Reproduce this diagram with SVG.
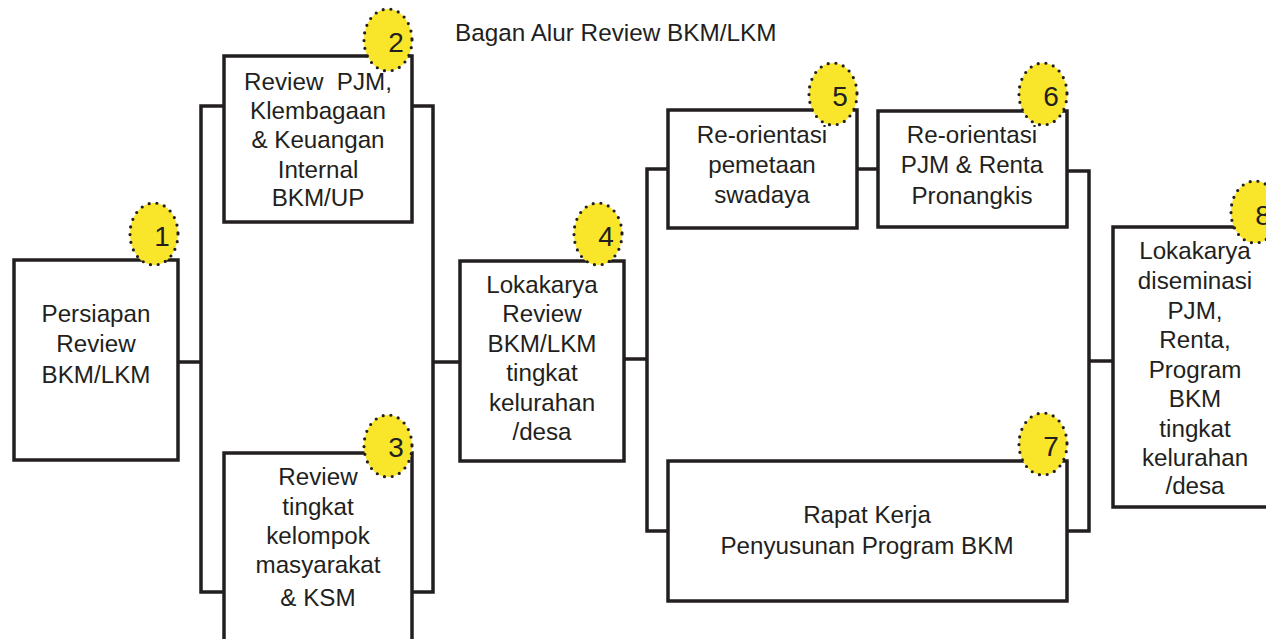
<svg xmlns="http://www.w3.org/2000/svg" width="1266" height="639" viewBox="0 0 1266 639">
<style>
.box{fill:#fff;stroke:#231f20;stroke-width:3.5}
.ln{fill:none;stroke:#231f20;stroke-width:3.5;stroke-linejoin:miter;stroke-linecap:square}
.t{font-family:"Liberation Sans",Arial,sans-serif;font-size:24.2px;fill:#231f20;text-anchor:middle;white-space:pre}
.badge{fill:#f9e62b;stroke:#231f20;stroke-width:3.2;stroke-dasharray:0 7.8;stroke-linecap:round}
.num{font-family:"Liberation Sans",Arial,sans-serif;font-size:28px;fill:#231f20;text-anchor:middle}
.title{font-family:"Liberation Sans",Arial,sans-serif;font-size:24.3px;fill:#231f20}
</style>
<rect width="1266" height="639" fill="#fff"/>
<text class="title" x="455" y="41">Bagan Alur Review BKM/LKM</text>
<g id="connectors">
<path class="ln" d="M178 362H201M224 106H201V592H224M412 106H433V592H412M433 362H460"/>
<path class="ln" d="M624 359H647M668 169H647V531H668M857 169H878"/>
<path class="ln" d="M1067 171H1089V531H1067M1089 361H1113"/>
</g>
<g id="node1">
<rect class="box" x="14" y="260" width="164" height="200"/>
<text class="t"><tspan x="96" y="322">Persiapan</tspan><tspan x="96" y="352">Review</tspan><tspan x="96" y="383">BKM/LKM</tspan></text>
</g>
<g id="node2">
<rect class="box" x="224" y="56" width="188" height="166"/>
<text class="t"><tspan x="318" y="90">Review  PJM,</tspan><tspan x="318" y="119">Klembagaan</tspan><tspan x="318" y="148">&amp; Keuangan</tspan><tspan x="318" y="178">Internal</tspan><tspan x="318" y="206">BKM/UP</tspan></text>
</g>
<g id="node3">
<rect class="box" x="224" y="453" width="188" height="200"/>
<text class="t"><tspan x="318" y="485">Review</tspan><tspan x="318" y="515">tingkat</tspan><tspan x="318" y="544">kelompok</tspan><tspan x="318" y="573">masyarakat</tspan><tspan x="318" y="606">&amp; KSM</tspan></text>
</g>
<g id="node4">
<rect class="box" x="460" y="261" width="164" height="200"/>
<text class="t"><tspan x="542" y="293">Lokakarya</tspan><tspan x="542" y="322">Review</tspan><tspan x="542" y="352">BKM/LKM</tspan><tspan x="542" y="381">tingkat</tspan><tspan x="542" y="411">kelurahan</tspan><tspan x="542" y="440">/desa</tspan></text>
</g>
<g id="node5">
<rect class="box" x="668" y="110" width="189" height="118"/>
<text class="t"><tspan x="762" y="143">Re-orientasi</tspan><tspan x="762" y="173">pemetaan</tspan><tspan x="762" y="203">swadaya</tspan></text>
</g>
<g id="node6">
<rect class="box" x="878" y="111" width="189" height="116"/>
<text class="t"><tspan x="972" y="143">Re-orientasi</tspan><tspan x="972" y="173">PJM &amp; Renta</tspan><tspan x="972" y="204">Pronangkis</tspan></text>
</g>
<g id="node7">
<rect class="box" x="668" y="461" width="399" height="140"/>
<text class="t"><tspan x="867" y="523">Rapat Kerja</tspan><tspan x="867" y="554">Penyusunan Program BKM</tspan></text>
</g>
<g id="node8">
<rect class="box" x="1113" y="227" width="180" height="280"/>
<text class="t"><tspan x="1195" y="259">Lokakarya</tspan><tspan x="1195" y="289">diseminasi</tspan><tspan x="1195" y="319">PJM,</tspan><tspan x="1195" y="348">Renta,</tspan><tspan x="1195" y="378">Program</tspan><tspan x="1195" y="407">BKM</tspan><tspan x="1195" y="437">tingkat</tspan><tspan x="1195" y="466">kelurahan</tspan><tspan x="1195" y="494">/desa</tspan></text>
</g>
<g id="badge1"><ellipse class="badge" cx="154" cy="234" rx="24" ry="31"/><text class="num" x="162" y="246">1</text></g>
<g id="badge2"><ellipse class="badge" cx="388" cy="40" rx="24" ry="31"/><text class="num" x="396" y="52">2</text></g>
<g id="badge3"><ellipse class="badge" cx="388" cy="446" rx="24" ry="31"/><text class="num" x="396" y="457">3</text></g>
<g id="badge4"><ellipse class="badge" cx="598" cy="234" rx="24" ry="31"/><text class="num" x="606" y="246">4</text></g>
<g id="badge5"><ellipse class="badge" cx="833" cy="94" rx="24" ry="31"/><text class="num" x="840" y="106">5</text></g>
<g id="badge6"><ellipse class="badge" cx="1043" cy="94" rx="24" ry="31"/><text class="num" x="1051" y="106">6</text></g>
<g id="badge7"><ellipse class="badge" cx="1043" cy="444" rx="24" ry="31"/><text class="num" x="1051" y="456">7</text></g>
<g id="badge8"><ellipse class="badge" cx="1255" cy="212" rx="24" ry="31"/><text class="num" x="1263" y="225">8</text></g>
</svg>
